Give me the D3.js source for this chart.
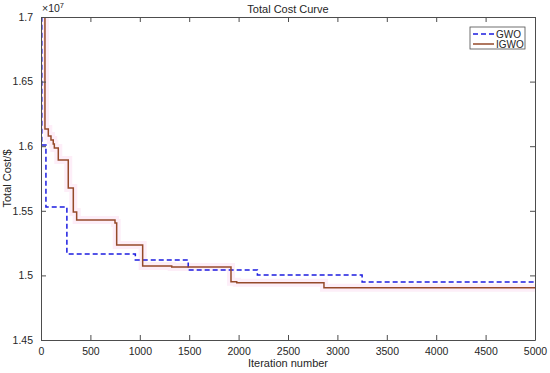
<!DOCTYPE html>
<html>
<head>
<meta charset="utf-8">
<script src="https://cdn.jsdelivr.net/npm/d3@7"></script>
<style>
  body { margin: 0; background: #fff; }
  text { font-family: "Liberation Sans", Arial, sans-serif; fill: #262626; }
</style>
</head>
<body>
<div id="chart"></div>
<script>
// values in units of 1e7 $
const gwoIter = [0, 8, 50, 262, 955, 1490, 2190, 3250, 5000];
const gwoCost = [1.78, 1.601, 1.553, 1.5166, 1.512, 1.5042, 1.5003, 1.4949, 1.4949];

const igwoIter = [0, 40, 74, 101, 124, 135, 175, 276, 327, 361, 749, 766, 1029, 1323, 1923, 1981, 2864, 5000];
const igwoCost = [1.78, 1.6133, 1.6079, 1.6048, 1.6017, 1.5986, 1.5893, 1.5676, 1.5491, 1.5429, 1.5406, 1.5235, 1.5073, 1.5065, 1.4951, 1.4944, 1.4905, 1.4905];

const xTicks = [0, 500, 1000, 1500, 2000, 2500, 3000, 3500, 4000, 4500, 5000];
const yTicks = [1.45, 1.5, 1.55, 1.6, 1.65, 1.7];

const width = 550, height = 373;
const margin = { top: 17, right: 15, bottom: 33, left: 41 };

const svg = d3.select("#chart")
  .append("svg")
  .attr("width", width)
  .attr("height", height);

const x = d3.scaleLinear().domain([0, 5000]).range([margin.left, width - margin.right]);
const y = d3.scaleLinear().domain([1.45, 1.7]).range([height - margin.bottom, margin.top]);

svg.append("clipPath")
  .attr("id", "plotClip")
  .append("rect")
  .attr("x", margin.left)
  .attr("y", margin.top)
  .attr("width", width - margin.left - margin.right)
  .attr("height", height - margin.top - margin.bottom);

const line = d3.line()
  .x(d => x(d[0]))
  .y(d => y(d[1]))
  .curve(d3.curveStepAfter);

const gwo = gwoIter.map((d, i) => [d, gwoCost[i]]);
const igwo = igwoIter.map((d, i) => [d, igwoCost[i]]);

const plot = svg.append("g").attr("clip-path", "url(#plotClip)");

// faint pink halo behind IGWO line
plot.append("path")
  .datum(igwo)
  .attr("d", line)
  .attr("fill", "none")
  .attr("stroke", "#fdeef8")
  .attr("stroke-width", 8);

plot.append("path")
  .datum(gwo)
  .attr("d", line)
  .attr("fill", "none")
  .attr("stroke", "#1c1ce0")
  .attr("stroke-width", 1.5)
  .attr("stroke-dasharray", "5,3");

plot.append("path")
  .datum(igwo)
  .attr("d", line)
  .attr("fill", "none")
  .attr("stroke", "#954a2a")
  .attr("stroke-width", 1.5);

// axes with inward ticks, MATLAB box style
const axisColor = "#4d4d4d";
const xAxis = d3.axisBottom(x).tickValues(xTicks).tickSizeInner(-5).tickSizeOuter(0).tickPadding(8)
  .tickFormat(d3.format("d"));
const yAxis = d3.axisLeft(y).tickValues(yTicks).tickSizeInner(-5).tickSizeOuter(0).tickPadding(8)
  .tickFormat(d3.format("~g"));

svg.append("g")
  .attr("transform", `translate(0,${height - margin.bottom})`)
  .call(xAxis);
svg.append("g")
  .attr("transform", `translate(${margin.left},0)`)
  .call(yAxis);

svg.append("g")
  .attr("transform", `translate(0,${margin.top})`)
  .call(d3.axisTop(x).tickValues(xTicks).tickSizeInner(-5).tickSizeOuter(0).tickFormat(""));
svg.append("g")
  .attr("transform", `translate(${width - margin.right},0)`)
  .call(d3.axisRight(y).tickValues(yTicks).tickSizeInner(-5).tickSizeOuter(0).tickFormat(""));

svg.selectAll(".domain, .tick line").attr("stroke", axisColor);
svg.selectAll(".tick text").attr("font-size", 10.5).attr("font-family", "Liberation Sans, Arial, sans-serif").attr("fill", "#262626");

// exponent label
const expo = svg.append("text")
  .attr("x", margin.left + 1)
  .attr("y", margin.top - 5)
  .attr("font-size", 10.5);
expo.append("tspan").text("\u00d710");
expo.append("tspan").attr("font-size", 7.5).attr("dy", -4).text("7");

svg.append("text")
  .attr("x", (margin.left + width - margin.right) / 2)
  .attr("y", 13)
  .attr("text-anchor", "middle")
  .attr("font-size", 11)
  .text("Total Cost Curve");

svg.append("text")
  .attr("x", (margin.left + width - margin.right) / 2)
  .attr("y", height - 6)
  .attr("text-anchor", "middle")
  .attr("font-size", 11)
  .text("Iteration number");

svg.append("text")
  .attr("transform", `translate(11,${(margin.top + height - margin.bottom) / 2}) rotate(-90)`)
  .attr("text-anchor", "middle")
  .attr("font-size", 11)
  .text("Total Cost/$");

// legend
const legend = svg.append("g").attr("transform", "translate(470,27)");
legend.append("rect")
  .attr("width", 55)
  .attr("height", 22)
  .attr("fill", "#fff")
  .attr("stroke", axisColor)
  .attr("stroke-width", 0.8);
const entries = [
  { name: "GWO", color: "#1c1ce0", dash: "5,3" },
  { name: "IGWO", color: "#954a2a", dash: null }
];
entries.forEach((e, i) => {
  const yy = 7 + i * 10;
  legend.append("line")
    .attr("x1", 3).attr("x2", 24)
    .attr("y1", yy).attr("y2", yy)
    .attr("stroke", e.color)
    .attr("stroke-width", 1.5)
    .attr("stroke-dasharray", e.dash);
  legend.append("text")
    .attr("x", 26)
    .attr("y", yy + 3.5)
    .attr("font-size", 10)
    .text(e.name);
});
</script>
</body>
</html>
